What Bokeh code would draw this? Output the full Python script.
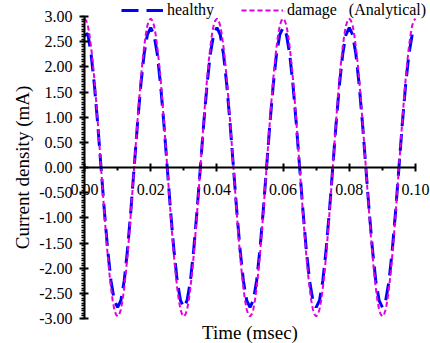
from bokeh.plotting import figure
from bokeh.models import Range1d, FixedTicker, PrintfTickFormatter, Legend, LegendItem, Label
from bokeh.embed import file_html
from bokeh.resources import INLINE

# ---- data (time in msec, current density in mA) ----
healthy = [
    2.62, 2.66, 2.25, 1.63, 0.86, 0.00, -0.86, -1.63, -2.25, -2.64,
    -2.78, -2.64, -2.25, -1.63, -0.86, 0.00, 0.86, 1.63, 2.25, 2.64,
    2.78, 2.64, 2.25, 1.63, 0.86, 0.00, -0.86, -1.63, -2.25, -2.64,
    -2.78, -2.64, -2.25, -1.63, -0.86, 0.00, 0.86, 1.63, 2.25, 2.64,
    2.78, 2.64, 2.25, 1.63, 0.86, 0.00, -0.86, -1.63, -2.25, -2.64,
    -2.78, -2.64, -2.25, -1.63, -0.86, 0.00, 0.86, 1.63, 2.25, 2.64,
    2.78, 2.64, 2.25, 1.63, 0.86, 0.00, -0.86, -1.63, -2.25, -2.64,
    -2.78, -2.64, -2.25, -1.63, -0.86, 0.00, 0.86, 1.63, 2.25, 2.64,
    2.78, 2.64, 2.25, 1.63, 0.86, 0.00, -0.86, -1.63, -2.25, -2.64,
    -2.78, -2.64, -2.25, -1.63, -0.86, 0.00, 0.86, 1.63, 2.25, 2.64,
    2.78,
]
healthy_step = 0.001
time_healthy = [round(i * healthy_step, 4) for i in range(len(healthy))]

damage = [
    2.96, 2.92, 2.82, 2.64, 2.39, 2.09, 1.74, 1.34, 0.91, 0.46, 0.00, -0.46, -0.91, -1.34, -1.74, -2.09, -2.39, -2.64, -2.82, -2.92,
    -2.96, -2.92, -2.82, -2.64, -2.39, -2.09, -1.74, -1.34, -0.91, -0.46, 0.00, 0.46, 0.91, 1.34, 1.74, 2.09, 2.39, 2.64, 2.82, 2.92,
    2.96, 2.92, 2.82, 2.64, 2.39, 2.09, 1.74, 1.34, 0.91, 0.46, 0.00, -0.46, -0.91, -1.34, -1.74, -2.09, -2.39, -2.64, -2.82, -2.92,
    -2.96, -2.92, -2.82, -2.64, -2.39, -2.09, -1.74, -1.34, -0.91, -0.46, 0.00, 0.46, 0.91, 1.34, 1.74, 2.09, 2.39, 2.64, 2.82, 2.92,
    2.96, 2.92, 2.82, 2.64, 2.39, 2.09, 1.74, 1.34, 0.91, 0.46, 0.00, -0.46, -0.91, -1.34, -1.74, -2.09, -2.39, -2.64, -2.82, -2.92,
    -2.96, -2.92, -2.82, -2.64, -2.39, -2.09, -1.74, -1.34, -0.91, -0.46, 0.00, 0.46, 0.91, 1.34, 1.74, 2.09, 2.39, 2.64, 2.82, 2.92,
    2.96, 2.92, 2.82, 2.64, 2.39, 2.09, 1.74, 1.34, 0.91, 0.46, 0.00, -0.46, -0.91, -1.34, -1.74, -2.09, -2.39, -2.64, -2.82, -2.92,
    -2.96, -2.92, -2.82, -2.64, -2.39, -2.09, -1.74, -1.34, -0.91, -0.46, 0.00, 0.46, 0.91, 1.34, 1.74, 2.09, 2.39, 2.64, 2.82, 2.92,
    2.96, 2.92, 2.82, 2.64, 2.39, 2.09, 1.74, 1.34, 0.91, 0.46, 0.00, -0.46, -0.91, -1.34, -1.74, -2.09, -2.39, -2.64, -2.82, -2.92,
    -2.96, -2.92, -2.82, -2.64, -2.39, -2.09, -1.74, -1.34, -0.91, -0.46, 0.00, 0.46, 0.91, 1.34, 1.74, 2.09, 2.39, 2.64, 2.82, 2.92,
    2.96,
]
damage_step = 0.0005
time_damage = [round(i * damage_step, 5) for i in range(len(damage))]

x_ticks = [0.00, 0.02, 0.04, 0.06, 0.08, 0.10]
x_minor = [0.01, 0.03, 0.05, 0.07, 0.09]
y_ticks = [-3.0, -2.5, -2.0, -1.5, -1.0, -0.5, 0.0, 0.5, 1.0, 1.5, 2.0, 2.5, 3.0]
y_minor = [round(-3.0 + 0.05 * i, 2) for i in range(121)]
x_bounds = (0.0, 0.1)
y_bounds = (-3.0, 3.0)

series_labels = ["healthy", "damage\u00a0\u00a0\u00a0(Analytical)"]
x_title = "Time (msec)"
y_title = "Current density (mA)"

FONT = "Liberation Serif"
W, H = 430, 343
# pixel layout of the axes box inside the page
AX_L, AX_R, AX_T, AX_B = 84, 415, 16, 318
xs = (x_bounds[1] - x_bounds[0]) / (AX_R - AX_L)
ys = (y_bounds[1] - y_bounds[0]) / (AX_B - AX_T)
x_range = Range1d(x_bounds[0] - AX_L * xs, x_bounds[1] + (W - AX_R) * xs)
y_range = Range1d(y_bounds[0] - (H - AX_B) * ys, y_bounds[1] + AX_T * ys)

p = figure(width=W, height=H, output_backend="svg", toolbar_location=None,
           x_range=x_range, y_range=y_range,
           min_border_left=0, min_border_right=0, min_border_top=0, min_border_bottom=0)
p.outline_line_color = None
p.xgrid.visible = False
p.ygrid.visible = False
p.background_fill_color = "white"
p.border_fill_color = "white"

h = p.line(time_healthy, healthy, line_color="#0000FF", line_width=3, line_dash="17 8")
d = p.line(time_damage, damage, line_color="#E000E0", line_width=2, line_dash="5 3")

# x axis crossing at y = 0
xa = p.xaxis[0]
xa.fixed_location = 0
xa.bounds = x_bounds
xa.ticker = FixedTicker(ticks=x_ticks, minor_ticks=x_minor)
xa.formatter = PrintfTickFormatter(format="%.2f")
xa.axis_line_width = 2
xa.major_tick_line_width = 2
xa.minor_tick_line_width = 2
xa.major_tick_in = 4
xa.major_tick_out = 4
xa.minor_tick_in = 0
xa.minor_tick_out = 3
xa.major_label_standoff = 12
xa.major_label_text_font = FONT
xa.major_label_text_font_size = "16px"
xa.major_label_text_color = "black"

# y axis at x = 0
ya = p.yaxis[0]
ya.fixed_location = 0
ya.bounds = y_bounds
ya.ticker = FixedTicker(ticks=y_ticks, minor_ticks=y_minor)
ya.formatter = PrintfTickFormatter(format="%.2f")
ya.axis_line_width = 2
ya.major_tick_line_width = 2
ya.minor_tick_line_width = 1.5
ya.major_tick_in = 4
ya.major_tick_out = 5
ya.minor_tick_in = 0
ya.minor_tick_out = 3
ya.major_label_standoff = 7
ya.major_label_text_font = FONT
ya.major_label_text_font_size = "16px"
ya.major_label_text_color = "black"
ya.axis_label = y_title
ya.axis_label_text_font = FONT
ya.axis_label_text_font_size = "19px"
ya.axis_label_text_font_style = "normal"
ya.axis_label_text_color = "black"
ya.axis_label_standoff = 3

p.add_layout(Label(x=(x_bounds[0] + x_bounds[1]) / 2, y=11, y_units="screen", text=x_title,
                   text_align="center", text_baseline="middle",
                   text_font=FONT, text_font_size="19px", text_color="black"))

legend = Legend(items=[LegendItem(label=series_labels[0], renderers=[h]),
                       LegendItem(label=series_labels[1], renderers=[d])],
                orientation="horizontal", location=(119, 322),
                background_fill_alpha=0, border_line_alpha=0,
                label_text_font=FONT, label_text_font_size="16px",
                label_text_color="black",
                glyph_width=42, glyph_height=16, label_height=16,
                label_standoff=4, spacing=27, padding=2, margin=0)
p.add_layout(legend, "center")

open("out.html", "w").write(file_html(p, INLINE))
